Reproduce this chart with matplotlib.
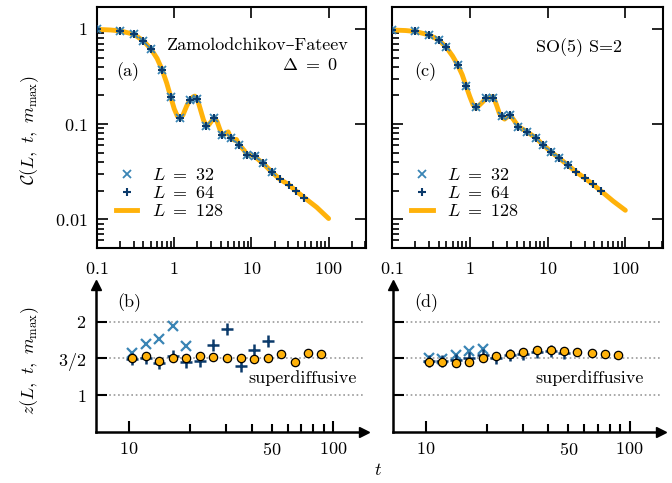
import matplotlib
matplotlib.use("Agg")
import matplotlib.pyplot as plt
from matplotlib.lines import Line2D

plt.rcParams["mathtext.fontset"] = "cm"
plt.rcParams["font.family"] = ["cmr10", "DejaVu Serif"]
plt.rcParams["axes.formatter.use_mathtext"] = True
plt.rcParams["font.size"] = 13

orange = "#ffb20a"
c32 = "#3a85b5"
c64 = "#0b3a6b"

# --- top panels: correlation C(L, t, m_max) ---
t_pts = [0.1, 0.2, 0.3, 0.4, 0.5, 0.7, 0.9, 1.2, 1.6, 2.0, 2.6, 3.3, 4.2, 5.4,
         7.0, 8.8, 11.1, 14.2, 18.3, 23.3, 30.3, 38.3, 48.5]
n32 = 19  # L=32 markers stop at t=18.3

zf_pts = [0.99, 0.953, 0.88, 0.748, 0.616, 0.37, 0.194, 0.115, 0.179, 0.182,
          0.096, 0.116, 0.0766, 0.0718, 0.060, 0.047, 0.046, 0.0386, 0.0315,
          0.0264, 0.0232, 0.0197, 0.0169]
so5_pts = [0.975, 0.94, 0.865, 0.766, 0.64, 0.418, 0.249, 0.150, 0.186, 0.19,
           0.122, 0.125, 0.0944, 0.0836, 0.072, 0.0605, 0.051, 0.0438, 0.037,
           0.0315, 0.027, 0.0233, 0.0199]

t_zf = [0.1, 0.15, 0.2, 0.3, 0.4, 0.5, 0.6, 0.7, 0.8, 0.9, 1.0, 1.1, 1.2, 1.3,
        1.45, 1.6, 1.75, 1.85, 2.0, 2.2, 2.4, 2.6, 2.8, 3.0, 3.3, 3.6, 3.9, 4.2,
        4.6, 5.0, 5.4, 6.0, 6.4, 7.0, 7.6, 8.2, 8.8, 9.6, 10.3, 11.1, 12.5,
        14.2, 18.3, 23.3, 30.3, 38.3, 48.5, 70, 100]
C_zf = [0.99, 0.975, 0.953, 0.88, 0.748, 0.616, 0.49, 0.37, 0.27, 0.194, 0.145,
        0.121, 0.115, 0.125, 0.155, 0.18, 0.193, 0.197, 0.182, 0.14, 0.11, 0.096,
        0.098, 0.106, 0.117, 0.106, 0.088, 0.0766, 0.079, 0.083, 0.0718, 0.068,
        0.069, 0.060, 0.056, 0.052, 0.047, 0.048, 0.047, 0.0455, 0.042, 0.0386,
        0.0315, 0.0264, 0.0232, 0.0197, 0.0169, 0.0134, 0.0102]

t_so5 = [0.1, 0.15, 0.2, 0.3, 0.4, 0.5, 0.6, 0.7, 0.8, 0.9, 1.0, 1.1, 1.2, 1.4,
         1.6, 1.8, 2.0, 2.2, 2.4, 2.6, 2.8, 3.0, 3.3, 3.7, 4.2, 5.4, 7.0, 8.8,
         11.1, 14.2, 18.3, 23.3, 30.3, 38.3, 48.5, 70, 100]
C_so5 = [0.975, 0.962, 0.94, 0.865, 0.766, 0.64, 0.52, 0.418, 0.33, 0.249, 0.195,
         0.16, 0.146, 0.165, 0.184, 0.193, 0.195, 0.16, 0.13, 0.118, 0.113, 0.118,
         0.125, 0.11, 0.0944, 0.0836, 0.072, 0.0605, 0.051, 0.0438, 0.037,
         0.0315, 0.027, 0.0233, 0.0199, 0.0155, 0.01245]

# --- bottom panels: exponent z(L, t, m_max) ---
t_z = [10.4, 12.1, 14.1, 16.4, 19.1, 22.2, 25.9, 30.1, 35.3, 41.0, 47.8, 55.5,
       65.1, 75.7, 87.9]
zf_z32 = [1.57, 1.70, 1.77, 1.94, 1.67]
zf_z64 = [1.49, 1.50, 1.43, 1.53, 1.45, 1.46, 1.68, 1.90, 1.395, 1.61, 1.74]
zf_z128 = [1.50, 1.53, 1.46, 1.51, 1.51, 1.53, 1.52, 1.50, 1.50, 1.49, 1.51,
           1.56, 1.45, 1.57, 1.555]
so5_z32 = [1.50, 1.49, 1.54, 1.60, 1.63]
so5_z64 = [1.47, 1.47, 1.48, 1.50, 1.54, 1.51, 1.54, 1.565, 1.585, 1.595, 1.575]
so5_z128 = [1.455, 1.455, 1.44, 1.455, 1.51, 1.53, 1.565, 1.59, 1.61, 1.62,
            1.60, 1.585, 1.57, 1.555, 1.55]

fig = plt.figure(figsize=(6.72, 4.83), dpi=100)
W, H = 672.0, 483.0

ax_a = fig.add_axes([97 / W, 1 - 248 / H, 269 / W, 241 / H])
ax_c = fig.add_axes([392 / W, 1 - 248 / H, 271 / W, 241 / H])
ax_b = fig.add_axes([96 / W, 1 - 431.7 / H, 268 / W, 146.7 / H])
ax_d = fig.add_axes([392.7 / W, 1 - 431.7 / H, 268 / W, 146.7 / H])

for ax, tl, Cl, pts in [(ax_a, t_zf, C_zf, zf_pts), (ax_c, t_so5, C_so5, so5_pts)]:
    ax.plot(tl, Cl, color=orange, lw=3.5, solid_capstyle="round", zorder=2)
    ax.plot(t_pts[:n32], pts[:n32], "x", color=c32, ms=5.5, mew=1.3, zorder=3)
    ax.plot(t_pts, pts, "+", color=c64, ms=6, mew=1.5, zorder=4)
    ax.set_xscale("log")
    ax.set_yscale("log")
    ax.set_xlim(0.1, 305)
    ax.set_ylim(0.005, 1.7)
    ax.set_xticks([0.1, 1, 10, 100])
    ax.set_xticklabels(["$0.1$", "$1$", "$10$", "$100$"])
    ax.set_yticks([0.01, 0.1, 1])
    ax.set_yticklabels(["$0.01$", "$0.1$", "$1$"])
    ax.tick_params(which="both", direction="in", top=True, right=True, width=1.2,
                   labelsize=13, pad=7)
    ax.tick_params(axis="x", pad=9)
    ax.tick_params(which="major", length=8)
    ax.tick_params(which="minor", length=5, top=False, right=False)
    for s in ax.spines.values():
        s.set_linewidth(1.5)

    leg_h = [Line2D([], [], ls="", marker="x", color=c32, ms=5.5, mew=1.3),
             Line2D([], [], ls="", marker="+", color=c64, ms=6, mew=1.5),
             Line2D([], [], color=orange, lw=3.5)]
    ax.legend(leg_h, ["$L\\ =\\ 32$", "$L\\ =\\ 64$", "$L\\ =\\ 128$"],
              loc="lower left", bbox_to_anchor=(0.07, 0.12), frameon=False,
              borderpad=0, borderaxespad=0, handlelength=1.2, handletextpad=0.8,
              labelspacing=0.1, fontsize=13)

ax_c.set_yticklabels([])

ax_a.text(0.935, 0.84, "Zamolodchikov–Fateev", transform=ax_a.transAxes,
          ha="right", va="center", fontsize=13)
ax_a.text(0.898, 0.76, "$\\Delta\\ =\\ 0$", transform=ax_a.transAxes,
          ha="right", va="center", fontsize=13)
ax_a.text(0.115, 0.73, "(a)", transform=ax_a.transAxes, ha="center",
          va="center", fontsize=13)
ax_c.text(0.85, 0.831, "SO(5) S=2", transform=ax_c.transAxes, ha="right",
          va="center", fontsize=13)
ax_c.text(0.122, 0.73, "(c)", transform=ax_c.transAxes, ha="center",
          va="center", fontsize=13)

for ax, z32, z64, z128, lab, sx in [(ax_b, zf_z32, zf_z64, zf_z128, "(b)", 0.974),
                                   (ax_d, so5_z32, so5_z64, so5_z128, "(d)", 0.935)]:
    for yv in [1, 1.5, 2]:
        ax.axhline(yv, color="#999999", ls=":", lw=1.2, zorder=1)
    ax.plot(t_z[:len(z32)], z32, "x", color=c32, ms=7, mew=1.6, zorder=3)
    ax.plot(t_z[:len(z64)], z64, "+", color=c64, ms=8, mew=1.8, zorder=4)
    ax.plot(t_z, z128, "o", mfc=orange, mec="black", ms=6, mew=0.9, zorder=5)
    ax.set_xscale("log")
    ax.set_xlim(6.9, 142)
    ax.set_ylim(0.5, 2.5)
    ax.set_xticks([10, 100])
    ax.set_xticklabels(["$10$", "$100$"])
    ax.set_xticks([20, 30, 40, 50, 60, 70, 80, 90], minor=True)
    ax.set_xticklabels(["", "", "", "$50$", "", "", "", ""], minor=True)
    ax.set_yticks([1, 1.5, 2])
    ax.set_yticklabels(["$1$", "$3/2$", "$2$"] if ax is ax_b else [])
    ax.tick_params(which="both", direction="in", width=1.5, labelsize=13, pad=7)
    ax.tick_params(which="major", length=8)
    ax.tick_params(which="minor", length=6)
    ax.tick_params(axis="y", length=8)
    ax.spines["top"].set_visible(False)
    ax.spines["right"].set_visible(False)
    ax.spines["left"].set_linewidth(1.8)
    ax.spines["bottom"].set_linewidth(1.8)
    ax.plot(1.0, 0, ">k", ms=6.5, transform=ax.transAxes, clip_on=False)
    ax.plot(0, 1.0, "^k", ms=6.5, transform=ax.transAxes, clip_on=False)
    ax.text(0.125, 0.877, lab, transform=ax.transAxes, ha="center",
            va="center", fontsize=13)
    ax.text(sx, 0.366, "superdiffusive", transform=ax.transAxes, ha="right",
            va="center", fontsize=13)

fig.text(30 / W, 1 - 130 / H, "$\\mathcal{C}(L,\\ t,\\ m_{\\mathrm{max}})$",
         rotation=90, ha="center", va="center", fontsize=13)
fig.text(30 / W, 1 - 361 / H, "$z(L,\\ t,\\ m_{\\mathrm{max}})$",
         rotation=90, ha="center", va="center", fontsize=13)
fig.text(378 / W, 1 - 470 / H, "$t$", ha="center", va="center", fontsize=13)

fig.savefig("out.png", dpi=100)
